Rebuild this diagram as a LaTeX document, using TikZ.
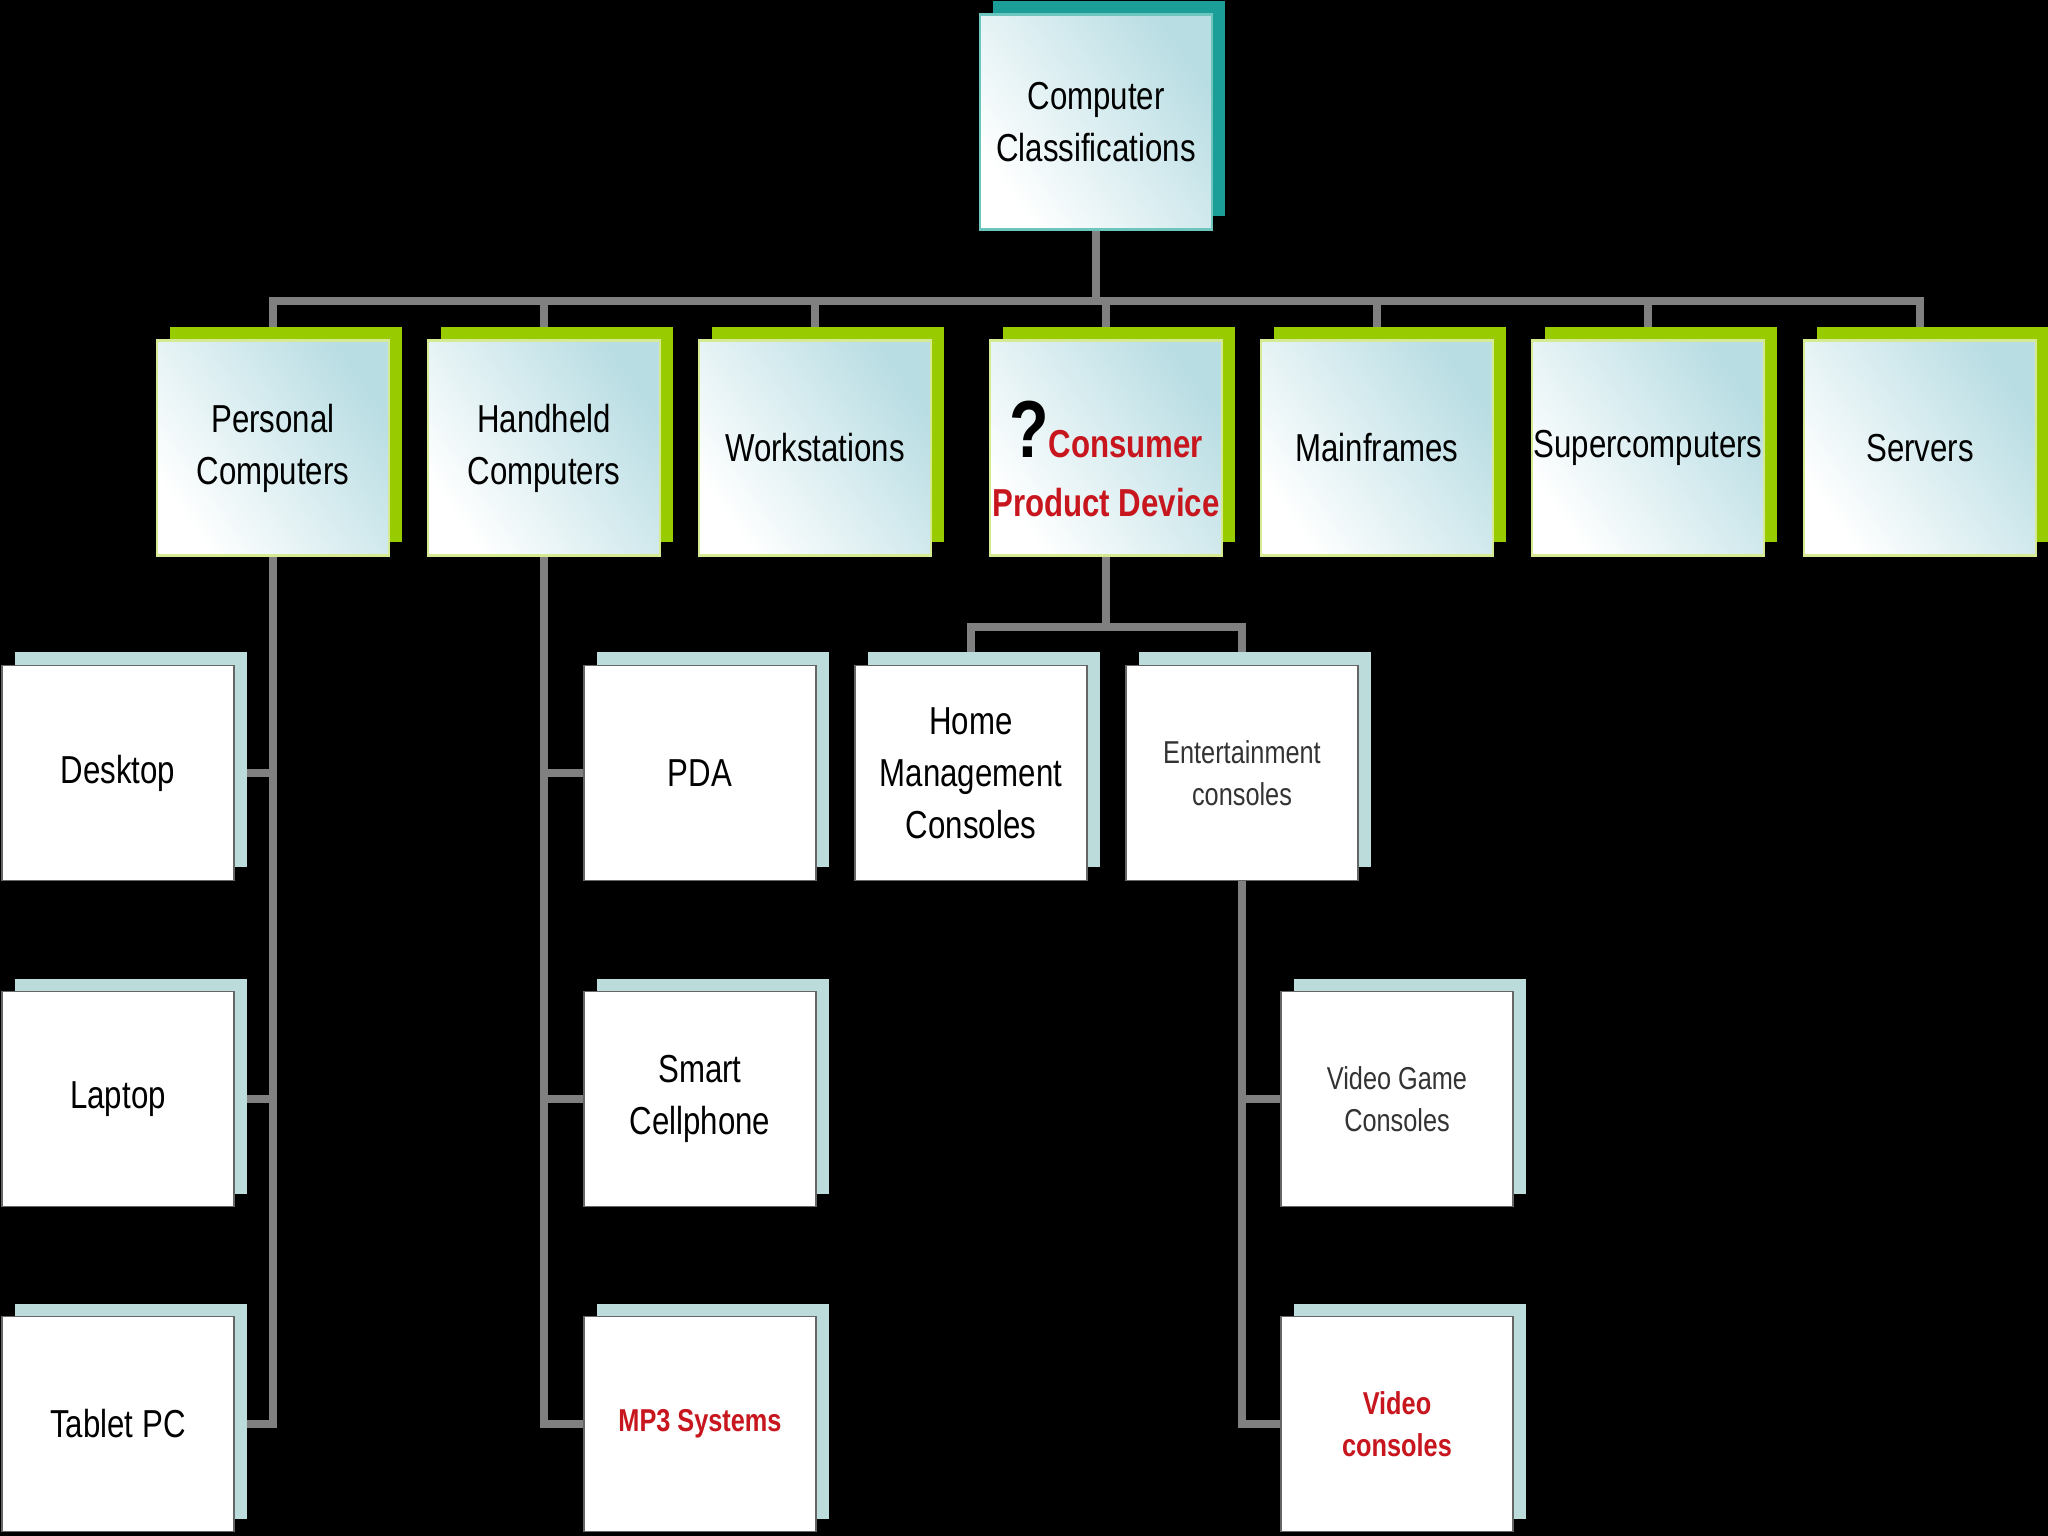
\documentclass[tikz,border=0pt]{standalone}
\usepackage{fontspec}
\setmainfont{Liberation Sans}[FakeStretch=0.8]
\usepackage{xcolor}
\usetikzlibrary{shadows}
\definecolor{lineGray}{HTML}{808080}
\definecolor{shadowGreen}{HTML}{99CC00}
\definecolor{shadowTeal}{HTML}{1C9E98}
\definecolor{shadowIce}{HTML}{BCDCDC}
\definecolor{edgeGreen}{HTML}{D6EA94}
\definecolor{edgeTeal}{HTML}{6CC6BE}
\definecolor{tintBlue}{HTML}{B8DDE3}
\definecolor{labelRed}{HTML}{C8161E}
\pgfdeclarelayer{canvas}
\pgfdeclarelayer{wires}
\pgfsetlayers{canvas,wires,main}
\tikzset{
  every node/.style = {inner sep=0, outer sep=0, align=center},
  wire/.style = {draw=lineGray, line width=2.2pt},
  box/.style = {rectangle, minimum width=2.32cm, minimum height=2.15cm,
    font=\fontsize{11.1}{14.8}\selectfont},
  tint/.style = {top color=tintBlue, middle color=white!85!tintBlue, bottom color=white, shading angle=-55},
  rootbox/.style = {box, draw=edgeTeal, line width=0.8pt, tint,
    drop shadow={shadow xshift=0.13cm, shadow yshift=0.13cm, fill=shadowTeal, opacity=1}},
  groupbox/.style = {box, draw=edgeGreen, line width=0.8pt, tint,
    drop shadow={shadow xshift=0.13cm, shadow yshift=0.13cm, fill=shadowGreen, opacity=1}},
  itembox/.style = {box, draw=black!60, line width=0.5pt, fill=white,
    drop shadow={shadow xshift=0.13cm, shadow yshift=0.13cm, fill=shadowIce, opacity=1}},
  small/.style = {font=\fontsize{9}{12}\selectfont, text=black!80},
  hot/.style = {font=\fontsize{9}{12}\selectfont\bfseries, text=labelRed}
}

\begin{document}
\begin{tikzpicture}
  \useasboundingbox (0,0) rectangle (20.48,-15.36);
  \begin{pgfonlayer}{canvas}
    \fill[black] (0,0) rectangle (20.48,-15.36);
  \end{pgfonlayer}

  % root and first level
  \node[rootbox] (root) at (10.96,-1.22) {Computer\\Classifications};
  \foreach \name/\x/\txt in {pc/2.73/{Personal\\Computers}, hh/5.44/{Handheld\\Computers},
      ws/8.15/Workstations, mf/13.77/Mainframes, sc/16.48/Supercomputers, srv/19.20/Servers} {
    \node[groupbox] (\name) at (\x,-4.48) {\txt};
  }
  \node[groupbox] (cpd) at (11.06,-4.48)
    {\rule{0pt}{0.78cm}{\fontsize{23}{23}\selectfont\bfseries ?}\textcolor{labelRed}{\bfseries Consumer}\\[2pt]
     \textcolor{labelRed}{\bfseries Product Device}};

  % second level
  \node[itembox] (desk) at (1.18,-7.73) {Desktop};
  \node[itembox] (lap) at (1.18,-10.99) {Laptop};
  \node[itembox] (tab) at (1.18,-14.24) {Tablet PC};
  \node[itembox] (pda) at (7.00,-7.73) {PDA};
  \node[itembox] (phone) at (7.00,-10.99) {Smart\\Cellphone};
  \node[itembox, hot] (mp3) at (7.00,-14.24) {MP3 Systems};
  \node[itembox] (home) at (9.71,-7.73) {Home\\Management\\Consoles};
  \node[itembox, small] (ent) at (12.42,-7.73) {Entertainment\\consoles};
  \node[itembox, small] (vgc) at (13.97,-10.99) {Video Game\\Consoles};
  \node[itembox, hot] (vc) at (13.97,-14.24) {Video\\consoles};

  % connectors
  \begin{pgfonlayer}{wires}
    \coordinate (bus) at (10.96,-3.01);
    \coordinate (split) at (11.06,-6.27);
    \draw[wire] (root.south) -- (bus);
    \foreach \n in {pc,hh,ws,cpd,mf,sc,srv} {
      \draw[wire] (\n.north) |- (bus);
    }
    \foreach \n in {desk,lap,tab} {
      \draw[wire] (pc.south) |- (\n.east);
    }
    \foreach \n in {pda,phone,mp3} {
      \draw[wire] (hh.south) |- (\n.west);
    }
    \draw[wire] (cpd.south) -- (split) -| (home.north);
    \draw[wire] (split) -| (ent.north);
    \foreach \n in {vgc,vc} {
      \draw[wire] (ent.south) |- (\n.west);
    }
  \end{pgfonlayer}
\end{tikzpicture}
\end{document}
